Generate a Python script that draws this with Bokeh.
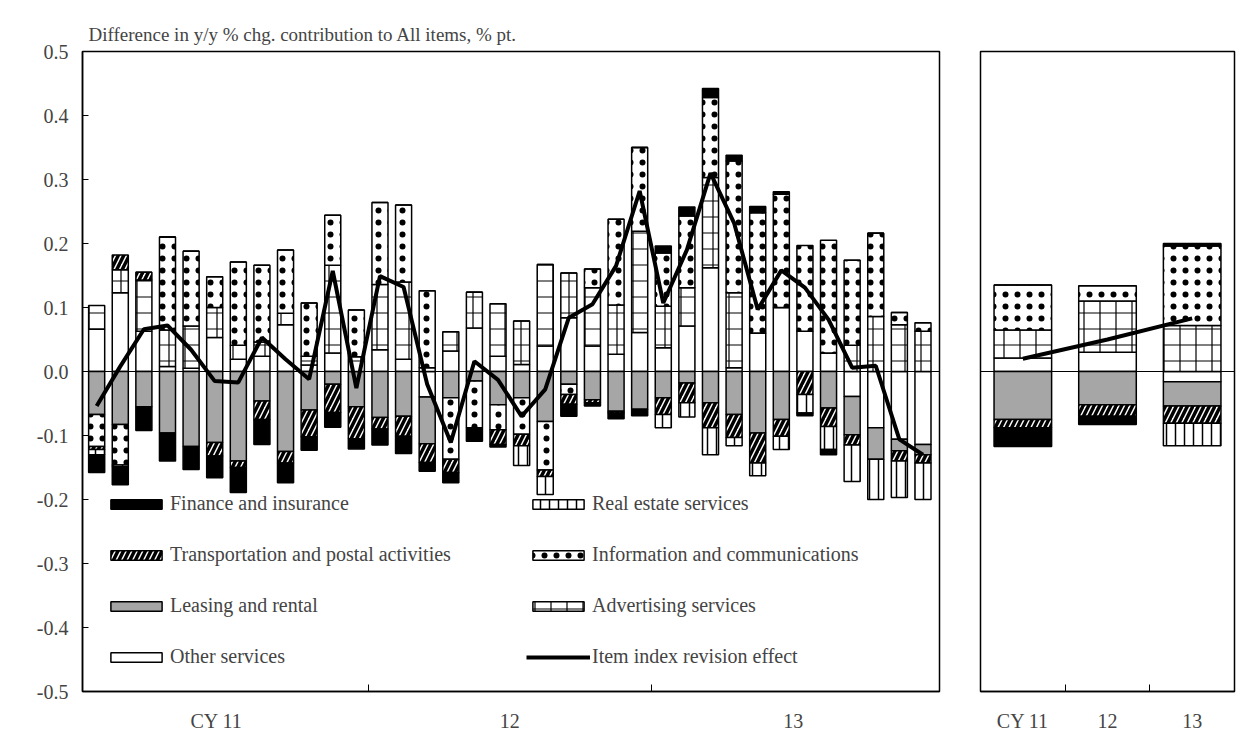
from bokeh.plotting import figure
from bokeh.layouts import row
from bokeh.models import Legend, LegendItem, Span, FixedTicker, LinearAxis, Range1d
from bokeh.embed import file_html
from bokeh.resources import INLINE

# monthly contributions, CY2011 Jan .. CY2013 Dec
other = [0.066, 0.123, 0.063, 0.008, 0.005, 0.053, 0.019, 0.024, 0.073, 0.01, 0.029, 0.0,
         0.034, 0.019, -0.04, 0.032, 0.068, 0.024, 0.011, 0.04, 0.084, 0.04, 0.027, 0.061,
         0.037, 0.071, 0.162, 0.006, 0.06, 0.1, 0.063, 0.029, -0.039, -0.088, -0.106, -0.114]
leasing = [-0.067, -0.083, -0.055, -0.096, -0.117, -0.111, -0.14, -0.046, -0.125, -0.06, -0.02, -0.055,
           -0.072, -0.07, -0.073, -0.041, -0.015, -0.052, -0.041, -0.078, -0.02, -0.044, -0.062, -0.059,
           -0.041, -0.018, -0.049, -0.067, -0.096, -0.075, 0.0, -0.057, -0.06, -0.049, -0.018, -0.016]
advertising = [0.037, 0.036, 0.08, 0.057, 0.066, 0.047, 0.022, 0.022, 0.018, 0.014, 0.137, 0.023,
               0.102, 0.121, 0.006, 0.03, 0.056, 0.082, 0.068, 0.127, 0.07, 0.091, 0.077, 0.158,
               0.065, 0.06, 0.141, 0.117, 0.0, 0.0, 0.0, 0.0, 0.041, 0.086, 0.073, 0.063]
info = [-0.05, -0.063, 0.0, 0.145, 0.117, 0.048, 0.13, 0.12, 0.099, 0.083, 0.078, 0.073,
        0.128, 0.12, 0.12, -0.096, -0.073, -0.039, -0.057, -0.076, -0.016, 0.029, 0.134, 0.131,
        0.083, 0.112, 0.125, 0.206, 0.188, 0.177, 0.134, 0.176, 0.133, 0.13, 0.019, 0.013]
transport = [-0.005, 0.023, 0.012, 0.0, 0.0, -0.021, -0.01, -0.029, -0.018, -0.042, -0.044, -0.05,
             -0.018, -0.031, -0.029, -0.021, 0.0, -0.023, -0.018, -0.01, -0.015, -0.005, -0.003, 0.0,
             -0.026, -0.031, -0.039, -0.036, -0.047, -0.026, -0.036, -0.029, -0.016, 0.0, -0.016, -0.013]
real_estate = [-0.008, -0.003, 0, 0, 0, 0, 0, 0, 0, 0, 0, 0,
               0, 0, 0, 0, 0, 0, -0.031, -0.028, 0, 0, 0, 0,
               -0.021, -0.022, -0.042, -0.013, -0.02, -0.021, -0.029, -0.036, -0.057, -0.063, -0.057, -0.057]
finance = [-0.028, -0.028, -0.037, -0.044, -0.036, -0.034, -0.039, -0.039, -0.031, -0.021, -0.023, -0.016,
           -0.025, -0.027, -0.014, -0.016, -0.021, -0.004, 0, 0, -0.019, -0.005, -0.009, -0.01,
           0.011, 0.014, 0.014, 0.009, 0.01, 0.004, -0.004, -0.008, 0, 0, 0, 0]
revision = [-0.054, 0.008, 0.066, 0.072, 0.034, -0.015, -0.017, 0.053, 0.019, -0.012, 0.157, -0.026,
            0.149, 0.132, -0.02, -0.111, 0.016, -0.013, -0.07, -0.028, 0.084, 0.105, 0.165, 0.282,
            0.107, 0.19, 0.31, 0.232, 0.097, 0.158, 0.131, 0.081, 0.006, 0.009, -0.106, -0.13]

# annual
years = ["CY 11", "12", "13"]
other_a = [0.021, 0.03, -0.016]
leasing_a = [-0.075, -0.052, -0.038]
advertising_a = [0.044, 0.08, 0.072]
info_a = [0.07, 0.024, 0.124]
transport_a = [-0.013, -0.018, -0.027]
real_estate_a = [0, 0, -0.035]
finance_a = [-0.029, -0.013, 0.004]
revision_a = [0.02, 0.05, 0.083]

FONT = "Liberation Serif"

styles = {
    "Other services": dict(fill_color="white"),
    "Leasing and rental": dict(fill_color="#a6a6a6"),
    "Advertising services": dict(fill_color="white", hatch_pattern="cross", hatch_scale=16, hatch_weight=1.2),
    "Information and communications": dict(fill_color="white", hatch_pattern="dot", hatch_scale=12, hatch_weight=0.5),
    "Transportation and postal activities": dict(fill_color="white", hatch_pattern="right_diagonal_line", hatch_scale=11, hatch_weight=3.5),
    "Real estate services": dict(fill_color="white", hatch_pattern="vertical_line", hatch_scale=9, hatch_weight=1.5),
    "Finance and insurance": dict(fill_color="black"),
}


def draw_stack(p, xs, series, width):
    pos = [0.0] * len(xs)
    neg = [0.0] * len(xs)
    rends = {}
    for name, vals in series:
        bottoms, tops = [], []
        for i, v in enumerate(vals):
            if v >= 0:
                bottoms.append(pos[i]); tops.append(pos[i] + v); pos[i] += v
            else:
                tops.append(neg[i]); bottoms.append(neg[i] + v); neg[i] += v
        rends[name] = p.vbar(x=xs, bottom=bottoms, top=tops, width=width,
                             line_color="black", line_width=1.5, **styles[name])
    return rends


def base_fig(frame_width, border_left, border_right, x_range):
    p = figure(frame_width=frame_width, frame_height=640, output_backend="svg", toolbar_location=None, tools="",
               x_range=x_range, y_range=Range1d(-0.5, 0.5),
               min_border_left=border_left, min_border_right=border_right,
               min_border_top=51, min_border_bottom=10)
    p.xgrid.visible = False
    p.ygrid.visible = False
    p.outline_line_color = "black"
    p.outline_line_width = 1.5
    p.background_fill_color = "white"
    p.add_layout(Span(location=0, dimension="width", line_color="black", line_width=1))
    return p


def label_axis(p, ticks, labels):
    ax = LinearAxis(ticker=FixedTicker(ticks=ticks), major_label_overrides=dict(zip(ticks, labels)))
    ax.axis_line_color = None
    ax.major_tick_line_color = None
    ax.minor_tick_line_color = None
    ax.major_label_text_font = FONT
    ax.major_label_text_font_size = "20px"
    ax.major_label_standoff = 12
    p.add_layout(ax, "below")


def tick_axis(p, ticks):
    p.xaxis.ticker = FixedTicker(ticks=ticks)
    p.xaxis.major_label_overrides = {t: "" for t in ticks}
    p.xaxis.major_tick_in = 7
    p.xaxis.major_tick_out = 0
    p.xaxis.minor_tick_line_color = None
    p.xaxis.axis_line_width = 1.5


# ---- monthly panel
xs = list(range(36))
p = base_fig(857, 82, 24, Range1d(-0.6, 35.7))
p.title.text = "Difference in y/y % chg. contribution to All items, % pt."
p.title.text_font = FONT
p.title.text_font_size = "19px"
p.title.text_font_style = "normal"
p.title.offset = 6
p.title.standoff = 14

series = [("Other services", other), ("Leasing and rental", leasing), ("Advertising services", advertising),
          ("Information and communications", info), ("Transportation and postal activities", transport),
          ("Real estate services", real_estate), ("Finance and insurance", finance)]
rends = draw_stack(p, xs, series, 0.68)
line = p.line(xs, revision, line_color="black", line_width=4)

yt = [-0.5, -0.4, -0.3, -0.2, -0.1, 0.0, 0.1, 0.2, 0.3, 0.4, 0.5]
p.yaxis.ticker = FixedTicker(ticks=yt)
p.yaxis.major_label_overrides = {t: "%.1f" % t for t in yt}
p.yaxis.major_tick_in = 6
p.yaxis.major_tick_out = 0
p.yaxis.minor_tick_line_color = None
p.yaxis.major_label_text_font = FONT
p.yaxis.major_label_text_font_size = "20px"
p.yaxis.major_label_standoff = 14
p.yaxis.axis_line_width = 1.5

tick_axis(p, [11.5, 23.5])
label_axis(p, [5.5, 17.5, 29.5], ["CY     11", "12", "13"])

leg_kw = dict(glyph_width=64, glyph_height=12, label_height=20, spacing=28, padding=0, margin=0,
              label_text_font=FONT, label_text_font_size="20px", label_standoff=2,
              background_fill_alpha=0, border_line_color=None)
left_names = ["Finance and insurance", "Transportation and postal activities", "Leasing and rental", "Other services"]
right_names = ["Real estate services", "Information and communications", "Advertising services"]
leg1 = Legend(items=[LegendItem(label=n, renderers=[rends[n]]) for n in left_names],
              location=(22, 23), **leg_kw)
leg2 = Legend(items=[LegendItem(label=n, renderers=[rends[n]]) for n in right_names] +
              [LegendItem(label="Item index revision effect", renderers=[line])],
              location=(444, 23), **leg_kw)
p.add_layout(leg1, "center")
p.add_layout(leg2, "center")

# ---- annual panel
xa = [0, 1, 2]
q = base_fig(254, 17, 2, Range1d(-0.5, 2.5))
q.title.text = " "
q.title.text_font_size = "19px"
q.title.standoff = 14
series_a = [("Other services", other_a), ("Leasing and rental", leasing_a), ("Advertising services", advertising_a),
            ("Information and communications", info_a), ("Transportation and postal activities", transport_a),
            ("Real estate services", real_estate_a), ("Finance and insurance", finance_a)]
draw_stack(q, xa, series_a, 0.68)
q.line(xa, revision_a, line_color="black", line_width=4)
q.yaxis.visible = False
tick_axis(q, [0.5, 1.5])
label_axis(q, xa, years)

layout = row(p, q)
open("out.html", "w").write(file_html(layout, INLINE))
